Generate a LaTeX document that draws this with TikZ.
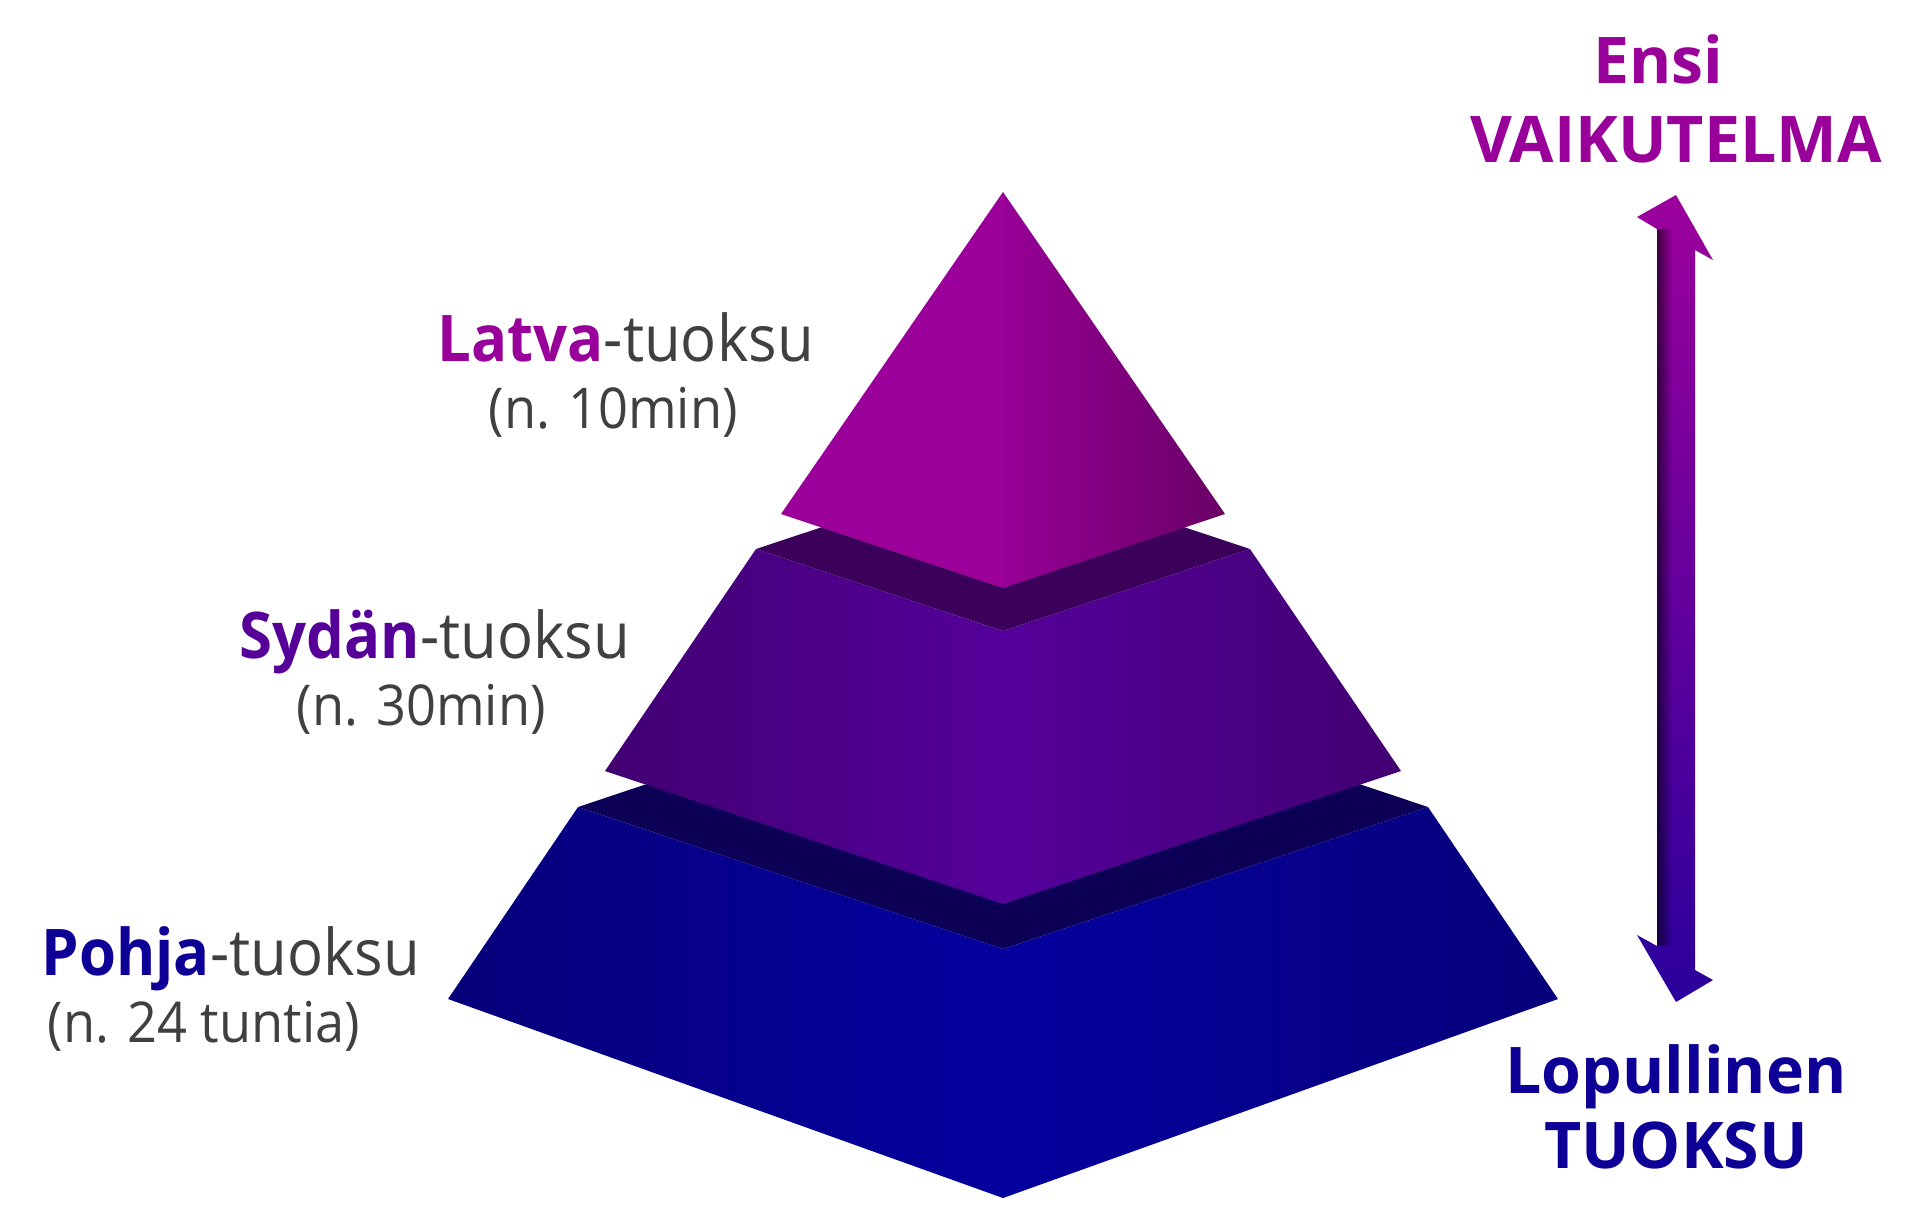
\documentclass[tikz,border=0pt]{standalone}
\usepackage{fontspec}
\setmainfont{Open Sans}
\newfontfamily\lblfont{Open Sans}[FakeStretch=0.93]
\usetikzlibrary{fadings}

\definecolor{latvac}{HTML}{990099}
\definecolor{sydanc}{HTML}{560099}
\definecolor{pohjac}{HTML}{0E0096}
\definecolor{txtgray}{HTML}{404040}
\definecolor{topL}{HTML}{9B009B}
\definecolor{topR}{HTML}{960096}
\definecolor{topRd}{HTML}{6A0066}
\definecolor{bandA}{HTML}{3A005A}
\definecolor{midC}{HTML}{54009A}
\definecolor{midE}{HTML}{420072}
\definecolor{bandB}{HTML}{0C0056}
\definecolor{botC}{HTML}{05009E}
\definecolor{botE}{HTML}{06007A}
\definecolor{arrTop}{HTML}{9C009C}
\definecolor{arrBot}{HTML}{2A009C}

\begin{document}
\begin{tikzpicture}[x=0.01cm,y=-0.01cm,inner sep=0pt,
  lbl/.style={font=\lblfont\fontsize{18.3pt}{22pt}\selectfont,text=txtgray,anchor=base west},
  tim/.style={font=\lblfont\fontsize{16pt}{20pt}\selectfont,text=txtgray,anchor=base west},
  big/.style={font=\fontsize{18.3pt}{22pt}\selectfont\bfseries,anchor=base}]
\useasboundingbox[fill=white] (0,0) rectangle (1920,1223);

% bottom layer
\fill[bandB] (578,807) -- (1003,949) -- (1428,807) -- (1003,665) -- cycle;
\shade[left color=botE,right color=botC] (578,807) -- (1003,949) -- (1003,1198) -- (448,999) -- cycle;
\shade[left color=botC,right color=botE] (1003,949) -- (1428,807) -- (1558,999) -- (1003,1198) -- cycle;

% middle layer
\fill[bandA] (756,549) -- (1003,631) -- (1250,549) -- (1003,467) -- cycle;
\shade[left color=midE,right color=midC] (756,549) -- (1003,631) -- (1003,904) -- (605,771) -- cycle;
\shade[left color=midC,right color=midE] (1003,631) -- (1250,549) -- (1401,771) -- (1003,904) -- cycle;

% top
\fill[topL] (1003,192) -- (1003,588) -- (781,514) -- cycle;
\shade[left color=topR,right color=topRd] (1003,192) -- (1225,514) -- (1003,588) -- cycle;

% labels
\node[lbl] (latva) at (437,361) {\textcolor{latvac}{\bfseries Latva}-tuoksu};
\node[tim] (latvaT) at (488,428) {(n. 10min)};
\node[lbl] (sydan) at (239,658) {\textcolor{sydanc}{\bfseries Sydän}-tuoksu};
\node[tim] (sydanT) at (296,725) {(n. 30min)};
\node[lbl] (pohja) at (41,975) {\textcolor{pohjac}{\bfseries Pohja}-tuoksu};
\node[tim] (pohjaT) at (47,1042) {(n. 24 tuntia)};

\node[big,text=latvac] (ensi) at (1658,83) {Ensi};
\node[big,text=latvac] (vaik) at (1676,162) {VAIKUTELMA};
\node[big,text=pohjac] (lop) at (1676,1093) {Lopullinen};
\node[big,text=pohjac] (tuoksu) at (1676,1168) {TUOKSU};

% double arrow
\shade[top color=arrTop,bottom color=arrBot] (1676,195) -- (1713,260) -- (1695,250) -- (1695,970)
  -- (1713,980) -- (1676,1002) -- (1637,935) -- (1657,946) -- (1657,229) -- (1637,217) -- cycle;
\fill[black,opacity=0.6,path fading=east] (1657,229) rectangle (1672,946);

\end{tikzpicture}
\end{document}
